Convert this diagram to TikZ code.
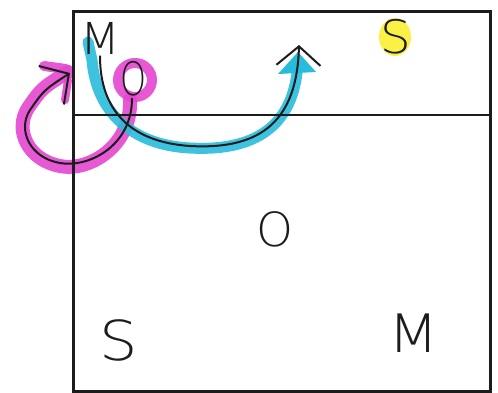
\documentclass[tikz,border=0pt]{standalone}
\usepackage{fontspec}
\setmainfont{DejaVu Sans ExtraLight}
\usetikzlibrary{arrows.meta}
\definecolor{ink}{RGB}{28,28,28}
\definecolor{pinkhl}{RGB}{228,70,208}
\definecolor{cyanhl}{RGB}{40,188,220}
\definecolor{yellowhl}{RGB}{250,240,70}
\begin{document}
\begin{tikzpicture}[x=1pt,y=-1pt,
  letter/.style={inner sep=0pt,text=ink},
  pen/.style={draw=ink,line width=2pt,line cap=round,line join=round},
  barbP/.style={-{Straight Barb[length=21pt,width=46pt,line width=2pt]}},
  barbC/.style={-{Straight Barb[length=19pt,width=44pt,line width=2pt]}},
  hlpink/.style={draw=pinkhl,line width=14pt,line cap=round,line join=round,opacity=0.9},
  hlcyan/.style={draw=cyanhl,line width=11pt,line cap=round,opacity=0.9}]
\useasboundingbox (0,0) rectangle (498,392);
% highlights
\fill[yellowhl] (395,37) ellipse (16pt and 19pt);
\draw[hlpink,line width=10pt] (135,80) circle (17pt);
\draw[hlpink] (130,100) .. controls (132,145) and (90,172) .. (60,166)
  .. controls (28,160) and (14,130) .. (28,108) .. controls (42,88) .. (68,72);
\draw[hlpink,line width=10pt] (44,66) -- (66,69);
\draw[hlpink,line width=8pt] (68,80) -- (65,100);
\draw[hlcyan] (88,42) -- (92,60) .. controls (96,110) and (130,145) .. (190,148)
  .. controls (262,152) and (296,120) .. (298,60);
\fill[cyanhl] (298,52) -- (278,74) -- (316,72) -- cycle;
% frame
\node[draw=ink,line width=3pt,minimum width=417pt,minimum height=380pt,inner sep=0pt,anchor=north west] (frame) at (72,10) {};
\coordinate (divL) at (72,115);
\coordinate (divR) at (489,115);
\draw[ink,line width=2.5pt] (divL) -- (divR);
% letters
\node[letter,font=\fontsize{44}{44}\selectfont,xscale=1.05] (M1) at (100,38) {M};
\node[letter,font=\fontsize{46}{46}\selectfont,xscale=0.72] (O1) at (134,79) {O};
\node[letter,font=\fontsize{46}{46}\selectfont,xscale=1.05] (S1) at (396,37) {S};
\node[letter,font=\fontsize{47}{47}\selectfont] (O2) at (275,229) {O};
\node[letter,font=\fontsize{55}{55}\selectfont,xscale=1.1] (S2) at (119,340) {S};
\node[letter,font=\fontsize{53}{53}\selectfont,xscale=1.1] (M2) at (414,333) {M};
% arrows
\coordinate (pinkTip) at (70,73);
\coordinate (cyanTip) at (299,45);
\draw[pen,barbP] (O1.south) ++(-2,2) .. controls (132,145) and (90,168) .. (60,163)
  .. controls (30,158) and (17,130) .. (30,110) .. controls (44,90) .. (pinkTip);
\draw[pen,barbC] (M1.south) ++(0,2) .. controls (100,110) and (130,142) .. (190,146)
  .. controls (262,150) and (297,120) .. (cyanTip);
\end{tikzpicture}
\end{document}
